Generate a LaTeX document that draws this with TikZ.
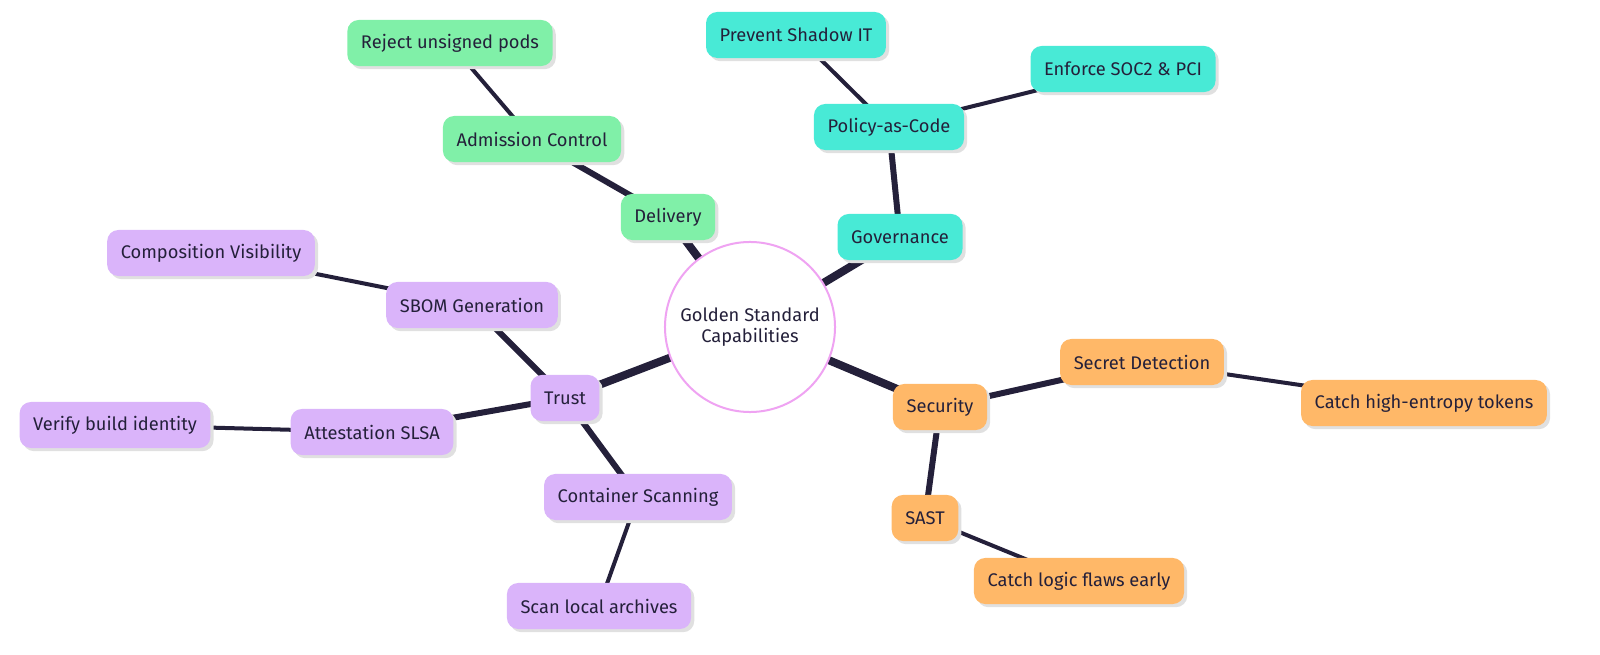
\documentclass[tikz,border=0pt]{standalone}
\usepackage{fontspec}
\setmainfont{Fira Sans}
\usepackage{xcolor}
\definecolor{linkcol}{HTML}{24203A}
\definecolor{delivcol}{HTML}{80F0A8}
\definecolor{govcol}{HTML}{48EAD6}
\definecolor{trustcol}{HTML}{DAB4FA}
\definecolor{seccol}{HTML}{FFB868}
\definecolor{rootcol}{HTML}{EFA3F2}
\tikzstyle{box}=[draw=none, rounded corners=0.28cm, minimum height=1.15cm, inner xsep=0.34cm, font=\fontsize{13}{15}\selectfont, text=linkcol, drop shadow={shadow xshift=0.08cm, shadow yshift=-0.08cm, fill=black!12, opacity=1}]
\tikzstyle{deliv}=[box, fill=delivcol]
\tikzstyle{gov}=[box, fill=govcol]
\tikzstyle{trust}=[box, fill=trustcol]
\tikzstyle{sec}=[box, fill=seccol]
\tikzstyle{thick edge}=[-, draw=linkcol, line width=0.2cm]
\tikzstyle{mid edge}=[-, draw=linkcol, line width=0.15cm]
\tikzstyle{thin edge}=[-, draw=linkcol, line width=0.1cm]
\usetikzlibrary{shadows}
\pgfdeclarelayer{edgelayer}
\pgfdeclarelayer{nodelayer}
\pgfsetlayers{edgelayer,nodelayer}
\begin{document}
\begin{tikzpicture}[x=0.025cm, y=-0.025cm]
	\begin{pgfonlayer}{nodelayer}
		\node [circle, draw=rootcol, line width=0.05cm, fill=white, minimum size=4.25cm, align=center, font=\fontsize{13}{15}\selectfont, text=linkcol] (root) at (750,327) {Golden Standard\\Capabilities};
		\node [style=deliv] (deliv) at (668,217) {Delivery};
		\node [style=deliv] (admit) at (532,139) {Admission Control};
		\node [style=deliv] (reject) at (450,43) {Reject unsigned pods};
		\node [style=gov] (gov) at (900,237) {Governance};
		\node [style=gov] (policy) at (889,127) {Policy-as-Code};
		\node [style=gov] (shadow) at (796,35) {Prevent Shadow IT};
		\node [style=gov] (soc) at (1123,69) {Enforce SOC2 \& PCI};
		\node [style=trust] (trust) at (565,398) {Trust};
		\node [style=trust] (sbom) at (472,305) {SBOM Generation};
		\node [style=trust] (compo) at (211,253) {Composition Visibility};
		\node [style=trust] (attest) at (372,432) {Attestation SLSA};
		\node [style=trust] (verify) at (115,425) {Verify build identity};
		\node [style=trust] (scan) at (638,497) {Container Scanning};
		\node [style=trust] (archive) at (599,606) {Scan local archives};
		\node [style=sec] (sec) at (940,407) {Security};
		\node [style=sec] (secret) at (1142,362) {Secret Detection};
		\node [style=sec] (entropy) at (1424,403) {Catch high-entropy tokens};
		\node [style=sec] (sast) at (925,518) {SAST};
		\node [style=sec] (logic) at (1079,581) {Catch logic flaws early};
	\end{pgfonlayer}
	\begin{pgfonlayer}{edgelayer}
		\draw [style=thick edge] (root.center) to (deliv.center);
		\draw [style=thick edge] (root.center) to (gov.center);
		\draw [style=thick edge] (root.center) to (trust.center);
		\draw [style=thick edge] (root.center) to (sec.center);
		\draw [style=mid edge] (deliv.center) to (admit.center);
		\draw [style=mid edge] (gov.center) to (policy.center);
		\draw [style=mid edge] (trust.center) to (sbom.center);
		\draw [style=mid edge] (trust.center) to (attest.center);
		\draw [style=mid edge] (trust.center) to (scan.center);
		\draw [style=mid edge] (sec.center) to (secret.center);
		\draw [style=mid edge] (sec.center) to (sast.center);
		\draw [style=thin edge] (admit.center) to (reject.center);
		\draw [style=thin edge] (policy.center) to (shadow.center);
		\draw [style=thin edge] (policy.center) to (soc.center);
		\draw [style=thin edge] (sbom.center) to (compo.center);
		\draw [style=thin edge] (attest.center) to (verify.center);
		\draw [style=thin edge] (scan.center) to (archive.center);
		\draw [style=thin edge] (secret.center) to (entropy.center);
		\draw [style=thin edge] (sast.center) to (logic.center);
	\end{pgfonlayer}
	\pgfresetboundingbox
	\useasboundingbox (0,0) rectangle (1600,655);
\end{tikzpicture}
\end{document}
